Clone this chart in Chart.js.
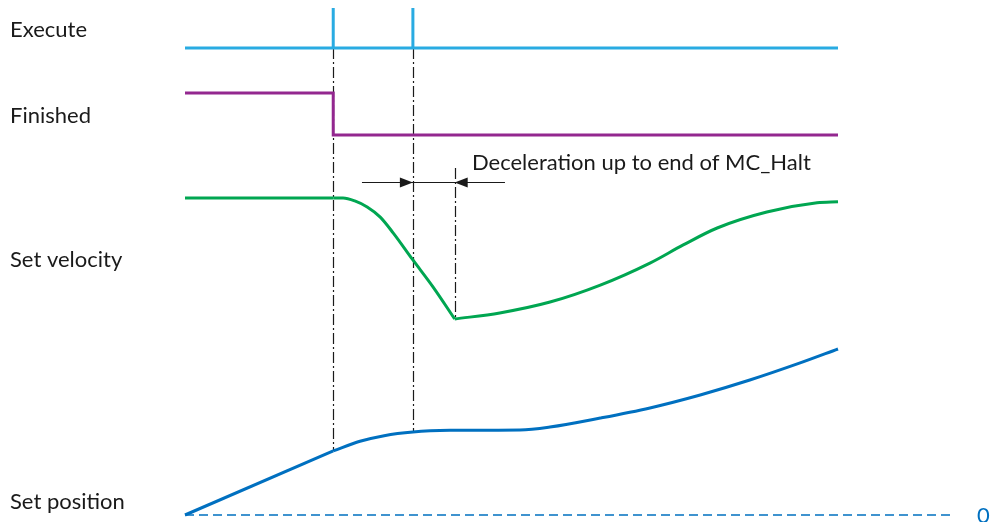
<!DOCTYPE html>
<html>
<head>
<meta charset="utf-8">
<script src="https://cdn.jsdelivr.net/npm/chart.js@4/dist/chart.umd.min.js"></script>
<style>
	body { margin: 0; background: #ffffff; }
	#wrap { position: relative; width: 992px; height: 522px; }
</style>
</head>
<body>
<div id="wrap"><canvas id="timing-chart"></canvas></div>
<script>
/* Signal labels, top to bottom. */
const signalNames = ["Execute", "Finished", "Set velocity", "Set position"];

/* Time runs from 0 (left end of the traces) to 100 (right end). */
const executeTime  = [0, 22.7, 22.7, 22.7, 34.9, 34.9, 34.9, 100];
const executeValue = [0, 0, 1, 0, 0, 1, 0, 0];

const finishedTime  = [0, 22.7, 22.7, 100];
const finishedValue = [1, 1, 0, 0];

/* Set velocity: constant, deceleration (MC_Halt) and re-acceleration. */
const velFlatTime   = [0, 22.7];
const velFlatValue  = [100, 100];
const velDecelTime  = [22.7, 24.2, 26.0, 27.9, 29.9, 31.9, 34.9, 38.0, 41.3];
const velDecelValue = [100, 100, 98.8, 96.3, 92.1, 85.5, 74.4, 63.2, 50];
const velAccelTime  = [41.3, 48.2, 55.9, 63.6, 71.2, 76.3, 81.5, 89.1, 96.8, 100];
const velAccelValue = [50, 52.5, 57.0, 64.0, 73.1, 80.6, 87.6, 94.2, 98.0, 98.4];

/* Set position. */
const posRampTime  = [0, 22.7];
const posRampValue = [0, 38.6];
const posTime  = [22.7, 26.8, 30.5, 34.9, 40.6, 46.0, 51.3, 55.9, 63.6, 71.2, 78.9, 86.5, 94.2, 100];
const posValue = [38.6, 44.4, 47.8, 50, 51.0, 51.1, 51.2, 53.0, 58.4, 64.5, 72.3, 81.3, 91.6, 100];

/* Zero reference of the position trace. */
const zeroTime  = [0, 117.2];
const zeroValue = [0, 0];

/* Event instants: MC_Halt start, second Execute, end of deceleration. */
const eventTime = [22.7, 34.9, 41.3];

const annotationText = "Deceleration up to end of MC_Halt";
const zeroLabel = "0";

const fontFamily = "Lato, 'Open Sans', sans-serif";
const canvasHeight = 522;

/* Build {x, y} points from a time list and a value list. */
const points = (t, v) => t.map((x, i) => ({ x: x, y: v[i] }));

/* Hidden y axis for one lane: pixel of value 0 and pixels per unit. */
const lane = (zeroPx, pxPerUnit) => ({
	display: false,
	min: (zeroPx - canvasHeight) / pxPerUnit,
	max: zeroPx / pxPerUnit,
});

const pxPerTime = 6.53;
const traceLeft = 185;

/* Guides, labels and dimension arrows. */
const timingDecor = {
	id: "timingDecor",
	beforeDatasetsDraw(chart) {
		const ctx = chart.ctx;
		const s = chart.scales;
		const guides = [
			[eventTime[0], s.yExe.getPixelForValue(0), s.yPos.getPixelForValue(38.6)],
			[eventTime[1], s.yExe.getPixelForValue(0), s.yPos.getPixelForValue(50)],
			[eventTime[2], s.yVel.getPixelForValue(112.4), s.yVel.getPixelForValue(50)],
		];
		ctx.save();
		ctx.strokeStyle = "#1a1a1a";
		ctx.lineWidth = 1.2;
		ctx.setLineDash([11, 3, 2, 3]);
		guides.forEach(([t, y0, y1]) => {
			const px = Math.round(s.x.getPixelForValue(t)) + 0.5;
			ctx.beginPath();
			ctx.moveTo(px, y0);
			ctx.lineTo(px, y1);
			ctx.stroke();
		});

		/* Dimension line with arrow heads. */
		ctx.setLineDash([]);
		const ay = Math.round(s.yVel.getPixelForValue(106.6)) + 0.5;
		ctx.beginPath();
		ctx.moveTo(s.x.getPixelForValue(27.1), ay);
		ctx.lineTo(s.x.getPixelForValue(49.0), ay);
		ctx.stroke();
		ctx.fillStyle = "#1a1a1a";
		const head = (tip, dir) => {
			ctx.beginPath();
			ctx.moveTo(tip, ay);
			ctx.lineTo(tip - dir * 13, ay - 5);
			ctx.lineTo(tip - dir * 13, ay + 5);
			ctx.closePath();
			ctx.fill();
		};
		head(s.x.getPixelForValue(eventTime[1]), 1);
		head(s.x.getPixelForValue(eventTime[2]), -1);
		ctx.restore();
	},
	afterDraw(chart) {
		const ctx = chart.ctx;
		const s = chart.scales;
		ctx.save();
		ctx.font = "22px " + fontFamily;
		ctx.fillStyle = "#1a1a1a";
		ctx.textBaseline = "alphabetic";
		const labelBase = [37, 123, 267, 509];
		signalNames.forEach((name, i) => ctx.fillText(name, 10, labelBase[i]));
		ctx.fillText(annotationText, 472, 170);
		ctx.fillStyle = "#0070c0";
		ctx.textBaseline = "middle";
		ctx.fillText(zeroLabel, 977, s.yPos.getPixelForValue(0) + 1);
		ctx.restore();
	},
};

const lineStyle = (color, width) => ({
	borderColor: color,
	borderWidth: width,
	pointRadius: 0,
	fill: false,
	clip: false,
	cubicInterpolationMode: "monotone",
	borderJoinStyle: "round",
});

const timingChart = new Chart(
	document.getElementById("timing-chart"),
	{
		type: "line",
		data:
		{
			datasets:
			[
				{ ...lineStyle("#0070c0", 1.5), label: "zero", data: points(zeroTime, zeroValue), yAxisID: "yPos", borderDash: [9, 5] },
				{ ...lineStyle("#29abe2", 3), label: "Execute", data: points(executeTime, executeValue), yAxisID: "yExe", cubicInterpolationMode: "default", borderJoinStyle: "miter" },
				{ ...lineStyle("#93278f", 3), label: "Finished", data: points(finishedTime, finishedValue), yAxisID: "yFin", cubicInterpolationMode: "default", borderJoinStyle: "miter" },
				{ ...lineStyle("#00a651", 3), label: "Set velocity", data: points(velFlatTime, velFlatValue), yAxisID: "yVel" },
				{ ...lineStyle("#00a651", 3), label: "Set velocity (halt)", data: points(velDecelTime, velDecelValue), yAxisID: "yVel" },
				{ ...lineStyle("#00a651", 3), label: "Set velocity (restart)", data: points(velAccelTime, velAccelValue), yAxisID: "yVel" },
				{ ...lineStyle("#0070c0", 3), label: "Set position", data: points(posRampTime, posRampValue), yAxisID: "yPos" },
				{ ...lineStyle("#0070c0", 3), label: "Set position (halt)", data: points(posTime, posValue), yAxisID: "yPos" },
			],
		},
		options:
		{
			responsive: true,
			maintainAspectRatio: false,
			animation: false,
			layout: { padding: 0 },
			plugins:
			{
				legend: { display: false },
				tooltip: { enabled: false },
			},
			scales:
			{
				x:
				{
					type: "linear",
					display: false,
					min: -traceLeft / pxPerTime,
					max: (992 - traceLeft) / pxPerTime,
				},
				yExe: lane(48, 40),
				yFin: lane(135, 42),
				yVel: lane(440, 2.42),
				yPos: lane(515, 1.66),
			},
		},
		plugins: [timingDecor],
	}
);
</script>
</body>
</html>
